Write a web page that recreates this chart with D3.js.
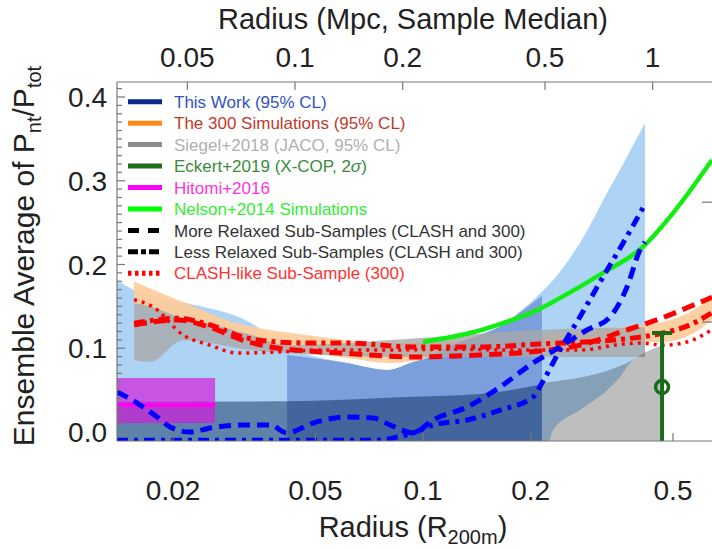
<!DOCTYPE html>
<html><head><meta charset="utf-8">
<script src="https://cdn.jsdelivr.net/npm/d3@7"></script>
<style>
body{margin:0;background:#fff}
svg{display:block}
text{font-family:"Liberation Sans", Arial, sans-serif}
</style>
</head><body>
<svg id="c" width="712" height="549"></svg>
<script>
// ---------- data ----------
const xTicksR = [0.02, 0.05, 0.1, 0.2, 0.5];
const xTicksMpc = [0.05, 0.1, 0.2, 0.5, 1];
const yTicks = [0.0, 0.1, 0.2, 0.3, 0.4];
const mpcPerR200m = 2.28;

// This Work 95% CL (outer band)
const twR  = [0.01394,0.01556,0.02133,0.03284,0.04168,0.0613,0.0798,0.0938,0.1026,0.119,0.1443,0.1674,0.1904,0.203,0.2151,0.2309,0.2747,0.3333,0.3554,0.3791,0.4175];
const twLo = [-0.05,-0.05,-0.05,-0.05,-0.05,-0.05,-0.05,-0.05,-0.05,-0.05,-0.05,-0.05,-0.05,-0.05,-0.05,0.0024,0.0262,0.0532,0.0658,0.0824,0.0943];
const twHi = [0.1813,0.1696,0.1551,0.1308,0.1017,0.0824,0.0741,0.0836,0.0883,0.1027,0.1158,0.1279,0.1473,0.1570,0.1677,0.1813,0.2259,0.2919,0.3132,0.3355,0.3685];
// This Work, middle bin
const twMidR  = [0.04168,0.0613,0.0798,0.0938,0.1026,0.119,0.1443,0.1674,0.1904,0.2151];
const twMidHi = [0.0920,0.0824,0.0741,0.0836,0.0883,0.1027,0.1158,0.1279,0.1454,0.1628];
// This Work, inner (lower) band
const twInR  = [0.01394,0.04168,0.0862,0.1443,0.2151];
const twInHi = [0.0361,0.0367,0.0416,0.0454,0.0571];
// The 300 Simulations 95% CL
const t300R  = [0.01556,0.02133,0.0302,0.03984,0.04831,0.0613,0.0809,0.1,0.1443,0.2124,0.3554,0.4688,0.5578,0.6427];
const t300Lo = [0.1541,0.1357,0.1192,0.0978,0.0949,0.0883,0.0824,0.0860,0.0881,0.0955,0.1066,0.1075,0.1158,0.1337];
const t300Hi = [0.1793,0.1551,0.1298,0.1201,0.1153,0.1095,0.1063,0.1075,0.1085,0.1143,0.1250,0.1313,0.1434,0.1609];
// Siegel+2018 95% CL
const sgR  = [0.01556,0.01725,0.02133,0.02427,0.03284,0.04168,0.0862,0.2165,0.4175];
const sgLo = [0.0860,0.0836,0.1095,0.1075,0.0978,0.0943,0.0896,0.0896,0.0896];
const sgHi = [0.1541,0.1502,0.1357,0.1308,0.1163,0.1037,0.1105,0.1221,0.1250];
// Siegel+2018 outer region
const sgOutR  = [0.2151,0.3718,0.4175,0.4659];
const sgOutHi = [0.0585,0.0824,0.0949,0.1037];
// Hitomi+2016
const hitomiR = [0.01394, 0.02621];
const hitomiLo = 0.0107, hitomiHi = 0.0645, hitomiVal = 0.0323;
// Eckert+2019
const eckertR = 0.4659, eckertVal = 0.0537, eckertHi = 0.1182, eckertLo = -0.05;
// Nelson+2014
const nelsonR = [0.1,0.1353,0.1674,0.2084,0.2576,0.3186,0.4121,0.4903,0.6427];
const nelsonV = [0.1075,0.1182,0.1301,0.1454,0.1667,0.1900,0.2210,0.2569,0.3249];
// The 300 sub-samples
const lessRelR = [0.01556,0.02052,0.02538,0.03139,0.03906,0.04831,0.0613,0.0938,0.1443,0.2124,0.3125,0.3554,0.4688,0.5578,0.6427];
const lessRelV = [0.1298,0.1357,0.1279,0.1134,0.1075,0.1063,0.1063,0.1015,0.1015,0.1051,0.1085,0.1105,0.1182,0.1279,0.1425];
const moreRelR = [0.01556,0.02052,0.02538,0.03139,0.03906,0.04831,0.0613,0.0938,0.1443,0.2124,0.2747,0.3125,0.3554,0.4044,0.4688,0.547,0.6427];
const moreRelV = [0.1279,0.1337,0.1250,0.1095,0.1003,0.0967,0.0938,0.0896,0.0920,0.0967,0.1037,0.1105,0.1192,0.1269,0.1366,0.1483,0.1609];
const clashLikeR = [0.01556,0.01759,0.02133,0.02538,0.0302,0.03906,0.05152,0.07582,0.119,0.1867,0.2747,0.3554,0.4044,0.4688,0.547,0.6427];
const clashLikeV = [0.1580,0.1493,0.1158,0.1037,0.0943,0.0955,0.0978,0.0978,0.0988,0.0978,0.0978,0.1046,0.1063,0.1037,0.1075,0.1221];
// CLASH (This Work) sub-samples
const cMoreR = [0.01394,0.01587,0.01805,0.01963,0.02232,0.02538,0.03139,0.03735,0.04168,0.04926,0.0613,0.07247,0.0809,0.0938,0.1066,0.1327,0.1642,0.203,0.2415,0.2873,0.3333,0.3718,0.4044,0.4175];
const cMoreV = [0.0478,0.0346,0.0179,0.0060,0.0000,0.0048,0.0084,0.0084,-0.0011,0.0107,0.0179,0.0167,0.0084,-0.0011,0.0143,0.0298,0.0537,0.0824,0.1015,0.1218,0.1373,0.1731,0.2174,0.2269];
const cLessR = [0.01394,0.0758,0.0862,0.0938,0.1066,0.1327,0.1642,0.2030,0.2151,0.2415,0.2747,0.3186,0.3718,0.4121];
const cLessV = [-0.0099,-0.0099,-0.0050,-0.0011,0.0084,0.0143,0.0262,0.0416,0.0585,0.0978,0.1376,0.1851,0.2337,0.2676];
// right-axis tick marks
const rightTicks = [0.2744, 0.1313];

const legendLabels = ["This Work (95% CL)","The 300 Simulations (95% CL)","Siegel+2018 (JACO, 95% CL)","Eckert+2019 (X-COP, 2σ)","Hitomi+2016","Nelson+2014 Simulations","More Relaxed Sub-Samples (CLASH and 300)","Less Relaxed Sub-Samples (CLASH and 300)","CLASH-like Sub-Sample (300)"];
const legendLineColors = ["#0a2a8f","#ff8c1a","#8c8c8c","#1e6e1e","#ff00ff","#00ff00","#000","#000","#ff0000"];
const legendTextColors = ["#3352c4","#c0392b","#b0b0b0","#3a8a3a","#ff33dd","#33ee33","#333","#333","#ff3030"];
const legendDash = [null,null,null,null,null,null,"11,9","10,3,5,3","3.5,3.5"];

// ---------- layout ----------
const L = 117, R = 712, T = 82, B = 441;
const svg = d3.select("#c");
const x = d3.scaleLog().domain([0.01394, 0.6427]).range([L, R]);
const xMpc = d3.scaleLog().domain([0.01394*mpcPerR200m, 0.6427*mpcPerR200m]).range([L, R]);
const y = d3.scaleLinear().domain([-0.01075, 0.4179]).range([B, T]);

svg.append("clipPath").attr("id","clip").append("rect").attr("x",L).attr("y",T).attr("width",R-L).attr("height",B-T);
const g = svg.append("g").attr("clip-path","url(#clip)");

const band = (rs, lo, hi) => rs.map((r,i)=>({r, lo: Array.isArray(lo)?lo[i]:lo, hi: Array.isArray(hi)?hi[i]:hi}));
const area = d3.area().x(d=>x(d.r)).y0(d=>y(d.lo)).y1(d=>y(d.hi)).curve(d3.curveMonotoneX);
const line = d3.line().x(d=>x(d.r)).y(d=>y(d.v)).curve(d3.curveMonotoneX);
const pts = (rs, vs) => rs.map((r,i)=>({r, v: vs[i]}));

g.append("path").attr("d", area(band(twR, twLo, twHi))).attr("fill","rgb(174,212,245)");
g.append("path").attr("d", area(band(t300R, t300Lo, t300Hi))).attr("fill","#ffcc9a").attr("opacity",0.92);
g.append("path").attr("d", area(band(twMidR, -0.05, twMidHi))).attr("fill","rgb(122,159,220)");
g.append("path").attr("d", area(band(twInR, -0.05, twInHi))).attr("fill","rgb(0,30,80)").attr("opacity",0.45);
g.append("path").attr("d", area(band(sgR, sgLo, sgHi))).attr("fill","rgb(168,168,170)").attr("opacity",0.8);
g.append("path").attr("d", area(band(sgOutR, -0.05, sgOutHi))).attr("fill","rgb(40,40,40)").attr("opacity",0.3);
// Hitomi
g.append("rect").attr("x",x(hitomiR[0])).attr("width",x(hitomiR[1])-x(hitomiR[0]))
  .attr("y",y(hitomiHi)).attr("height",y(hitomiLo)-y(hitomiHi)).attr("fill","rgb(210,30,220)").attr("opacity",0.7);
g.append("line").attr("x1",x(hitomiR[0])).attr("x2",x(hitomiR[1])).attr("y1",y(hitomiVal)).attr("y2",y(hitomiVal))
  .attr("stroke","#ff00f0").attr("stroke-width",4);

// Lines
const drawLine = (rs, vs, color, w, dash) => g.append("path").attr("d", line(pts(rs,vs))).attr("fill","none")
  .attr("stroke",color).attr("stroke-width",w).attr("stroke-dasharray",dash);
drawLine(nelsonR, nelsonV, "#11ee11", 4.5, null);
drawLine(clashLikeR, clashLikeV, "#ff0000", 3.5, "3,5");
drawLine(lessRelR, lessRelV, "#ff0000", 5, "11,5,4,5");
drawLine(moreRelR, moreRelV, "#ff0000", 5, "13,7");
drawLine(cMoreR, cMoreV, "#0000ff", 5, "12,7");
drawLine(cLessR, cLessV, "#0000ff", 5, "11,6,4,6");

// Eckert
const ex = x(eckertR);
g.append("line").attr("x1",ex).attr("x2",ex).attr("y1",y(eckertLo)).attr("y2",y(eckertHi)).attr("stroke","#1a6b1a").attr("stroke-width",4);
g.append("line").attr("x1",ex-10).attr("x2",ex+10).attr("y1",y(eckertHi)).attr("y2",y(eckertHi)).attr("stroke","#1a6b1a").attr("stroke-width",4);
g.append("circle").attr("cx",ex).attr("cy",y(eckertVal)).attr("r",6.5).attr("fill","none").attr("stroke","#1a6b1a").attr("stroke-width",3.5);

// ---------- axes ----------
const ax = svg.append("g").attr("stroke","#777").attr("stroke-width",1.2);
ax.append("line").attr("x1",L).attr("x2",L).attr("y1",T).attr("y2",B);
ax.append("line").attr("x1",L).attr("x2",R).attr("y1",T).attr("y2",T);
ax.append("line").attr("x1",L).attr("x2",R).attr("y1",B).attr("y2",B);
d3.range(0, 42).map(i=>i/100).forEach((v,i)=>{
  const major = i%10===0;
  ax.append("line").attr("x1",L).attr("x2",L+(major?8:5)).attr("y1",y(v)).attr("y2",y(v));
});
xTicksR.forEach(t=>ax.append("line").attr("x1",x(t)).attr("x2",x(t)).attr("y1",B).attr("y2",B-8));
xTicksMpc.forEach(t=>ax.append("line").attr("x1",xMpc(t)).attr("x2",xMpc(t)).attr("y1",T).attr("y2",T+8));
rightTicks.forEach(t=>ax.append("line").attr("x1",R).attr("x2",R-10).attr("y1",y(t)).attr("y2",y(t)));

const tl = svg.append("g").attr("fill","#222").attr("font-size",28);
yTicks.forEach(t=>tl.append("text").attr("x",107).attr("y",y(t)).attr("dy","0.36em").attr("text-anchor","end").text(d3.format(".1f")(t)));
xTicksR.forEach(t=>tl.append("text").attr("x",x(t)).attr("y",490).attr("dy","0.36em").attr("text-anchor","middle").text(String(t)));
xTicksMpc.forEach(t=>tl.append("text").attr("x",xMpc(t)).attr("y",57).attr("dy","0.36em").attr("text-anchor","middle").text(String(t)));

// titles
tl.append("text").attr("x",413).attr("y",29).attr("text-anchor","middle").attr("font-size",29).text("Radius (Mpc, Sample Median)");
const bt = tl.append("text").attr("x",413).attr("y",537).attr("text-anchor","middle").attr("font-size",29);
bt.append("tspan").text("Radius (R");
bt.append("tspan").attr("font-size",20).attr("dy",7).text("200m");
bt.append("tspan").attr("dy",-7).text(")");
const yt = tl.append("text").attr("transform","translate(34,256) rotate(-90)").attr("text-anchor","middle").attr("font-size",30);
yt.append("tspan").text("Ensemble Average of P");
yt.append("tspan").attr("font-size",20).attr("dy",7).text("nt");
yt.append("tspan").attr("dy",-7).text("/P");
yt.append("tspan").attr("font-size",20).attr("dy",7).text("tot");

// legend
const lg = svg.append("g");
legendLabels.forEach((lab,i)=>{
  const yy = 101.7 + i*21.45;
  lg.append("line").attr("x1",128).attr("x2",162).attr("y1",yy).attr("y2",yy)
    .attr("stroke",legendLineColors[i]).attr("stroke-width",5).attr("stroke-dasharray",legendDash[i]);
  const t = lg.append("text").attr("x",174).attr("y",yy).attr("dy","0.36em").attr("font-size",17).attr("fill",legendTextColors[i]);
  if (lab.includes("σ")) {
    const parts = lab.split("σ");
    t.append("tspan").text(parts[0]);
    t.append("tspan").attr("font-style","italic").text("σ");
    t.append("tspan").text(parts[1]);
  } else t.text(lab);
});
</script>
</body></html>
